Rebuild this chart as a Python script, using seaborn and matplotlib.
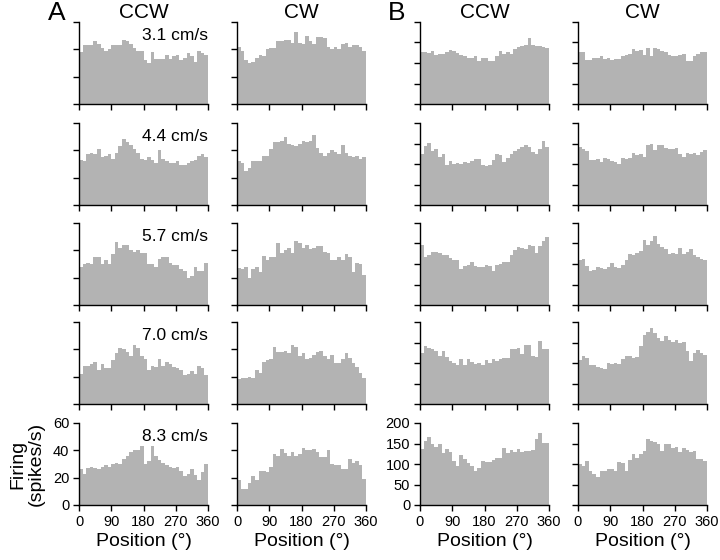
import numpy as np
import pandas as pd
import matplotlib
matplotlib.use("Agg")
import matplotlib.pyplot as plt
import seaborn as sns

# ---------------- data (firing rate per 10-degree bin, 36 bins) ----------------
bin_edges = list(range(0, 370, 10))
speeds = ["3.1 cm/s", "4.4 cm/s", "5.7 cm/s", "7.0 cm/s", "8.3 cm/s"]
col_titles = ["CCW", "CW", "CCW", "CW"]
panel_letters = ["A", "B"]
x_ticks = [0, 90, 180, 270, 360]
a_yticks = [0, 20, 40, 60]
b_yticks = [0, 50, 100, 150, 200]

# Panel A (0-60 spikes/s)
a_ccw_31 = [38, 43, 43, 43, 46, 44, 41, 39, 40, 43, 43, 43, 47, 46, 44, 41, 39, 39,
            32, 30, 38, 33, 33, 33, 36, 33, 35, 36, 32, 34, 37, 35, 31, 39, 37, 36]
a_cw_31 = [42, 39, 32, 30, 31, 34, 36, 35, 40, 41, 41, 46, 46, 47, 47, 45, 53, 45,
           44, 50, 46, 44, 49, 49, 48, 42, 40, 42, 40, 44, 45, 42, 43, 43, 42, 39]
a_ccw_44 = [33, 32, 37, 38, 37, 41, 35, 36, 37, 34, 38, 43, 48, 46, 44, 41, 38, 34,
            33, 35, 33, 31, 40, 34, 32, 31, 31, 32, 29, 29, 31, 32, 33, 36, 37, 35]
a_cw_44 = [32, 31, 25, 27, 32, 32, 32, 36, 36, 41, 46, 46, 47, 50, 45, 44, 43, 45,
           47, 46, 47, 51, 42, 38, 36, 38, 40, 39, 37, 44, 38, 36, 35, 36, 34, 35]
a_ccw_57 = [28, 30, 31, 30, 35, 35, 30, 33, 30, 37, 46, 42, 44, 44, 40, 39, 40, 38,
            38, 30, 30, 28, 34, 35, 35, 31, 29, 29, 26, 25, 20, 21, 28, 25, 25, 31]
a_cw_57 = [27, 26, 28, 20, 26, 28, 24, 36, 33, 35, 35, 45, 38, 40, 42, 38, 47, 45,
           42, 44, 41, 42, 43, 43, 39, 38, 33, 33, 35, 33, 37, 35, 24, 31, 30, 22]
a_ccw_70 = [22, 28, 28, 29, 31, 25, 29, 26, 26, 32, 37, 41, 40, 38, 35, 43, 41, 35,
            33, 25, 28, 27, 33, 28, 31, 29, 27, 26, 25, 21, 22, 24, 22, 28, 26, 21]
a_cw_70 = [18, 19, 19, 20, 19, 25, 23, 31, 32, 33, 42, 38, 38, 39, 37, 43, 42, 35,
           37, 33, 34, 36, 38, 39, 35, 33, 36, 30, 30, 33, 37, 34, 30, 27, 23, 19]
a_ccw_83 = [26, 23, 27, 28, 27, 26, 28, 29, 28, 30, 31, 30, 34, 36, 39, 40, 40, 43,
            30, 32, 43, 36, 33, 31, 29, 28, 27, 28, 25, 21, 23, 26, 22, 18, 24, 30]
a_cw_83 = [18, 12, 12, 16, 21, 18, 25, 25, 24, 28, 37, 36, 41, 38, 36, 39, 36, 37,
           42, 40, 40, 41, 39, 35, 35, 40, 30, 29, 29, 26, 26, 34, 31, 32, 29, 19]

# Panel B (0-200 spikes/s)
b_ccw_31 = [127, 127, 124, 130, 120, 121, 121, 127, 131, 130, 124, 119, 116, 111, 113, 118, 105, 113,
            111, 106, 106, 118, 129, 121, 127, 121, 135, 138, 142, 143, 160, 143, 142, 142, 138, 136]
b_cw_31 = [126, 127, 107, 107, 113, 112, 118, 109, 111, 108, 109, 109, 118, 120, 123, 133, 130, 131,
           120, 136, 117, 137, 133, 130, 128, 120, 118, 116, 119, 121, 104, 105, 116, 121, 126, 127]
b_ccw_44 = [124, 145, 152, 131, 136, 117, 125, 97, 107, 101, 102, 101, 105, 102, 107, 112, 113, 98,
            95, 98, 109, 124, 123, 106, 115, 124, 131, 137, 141, 147, 141, 129, 125, 137, 157, 141]
b_cw_44 = [141, 137, 131, 110, 109, 113, 105, 115, 111, 107, 106, 99, 115, 113, 115, 127, 123, 125,
           117, 147, 148, 135, 147, 147, 139, 136, 137, 139, 125, 117, 127, 125, 127, 121, 129, 133]
b_ccw_57 = [147, 117, 123, 129, 129, 127, 123, 121, 115, 110, 109, 89, 94, 97, 105, 95, 92, 92,
            98, 94, 83, 97, 99, 106, 106, 121, 133, 141, 139, 137, 147, 144, 127, 145, 155, 167]
b_cw_57 = [110, 111, 95, 82, 85, 92, 91, 87, 92, 103, 92, 90, 98, 110, 124, 121, 127, 131,
           159, 147, 156, 168, 148, 141, 137, 124, 126, 124, 139, 124, 129, 137, 121, 117, 111, 109]
b_ccw_70 = [124, 141, 137, 133, 129, 117, 129, 115, 105, 101, 95, 110, 95, 109, 103, 97, 101, 95,
            107, 101, 109, 106, 110, 113, 113, 133, 135, 137, 121, 144, 144, 117, 115, 153, 133, 133]
b_cw_70 = [107, 118, 113, 95, 94, 91, 89, 86, 101, 98, 101, 98, 109, 118, 117, 113, 115, 141,
           169, 176, 185, 173, 161, 153, 166, 155, 151, 157, 149, 151, 129, 106, 124, 131, 124, 120]
b_ccw_83 = [137, 156, 165, 150, 142, 148, 128, 136, 130, 107, 96, 122, 112, 103, 94, 84, 91, 107,
            105, 104, 110, 114, 115, 140, 128, 135, 130, 137, 130, 131, 132, 133, 162, 176, 152, 151]
b_cw_83 = [99, 96, 107, 84, 76, 69, 83, 83, 87, 88, 84, 104, 103, 84, 110, 125, 115, 125,
           132, 160, 156, 154, 150, 131, 150, 150, 138, 142, 130, 138, 134, 130, 132, 113, 112, 108]

panels = [
    [a_ccw_31, a_cw_31, b_ccw_31, b_cw_31],
    [a_ccw_44, a_cw_44, b_ccw_44, b_cw_44],
    [a_ccw_57, a_cw_57, b_ccw_57, b_cw_57],
    [a_ccw_70, a_cw_70, b_ccw_70, b_cw_70],
    [a_ccw_83, a_cw_83, b_ccw_83, b_cw_83],
]

# ---------------- style ----------------
sns.set_style("ticks")
plt.rcParams["font.family"] = ["Liberation Sans", "DejaVu Sans"]
plt.rcParams["axes.linewidth"] = 1.0
plt.rcParams["xtick.major.size"] = 4
plt.rcParams["ytick.major.size"] = 4
plt.rcParams["xtick.major.width"] = 1.0
plt.rcParams["ytick.major.width"] = 1.0
plt.rcParams["xtick.direction"] = "out"
plt.rcParams["ytick.direction"] = "out"
plt.rcParams["xtick.color"] = "black"
plt.rcParams["ytick.color"] = "black"
plt.rcParams["xtick.labelcolor"] = "black"
plt.rcParams["ytick.labelcolor"] = "black"
plt.rcParams["axes.edgecolor"] = "black"
plt.rcParams["axes.labelcolor"] = "black"
plt.rcParams["text.color"] = "black"

W, H = 720, 560
fig = plt.figure(figsize=(W / 100, H / 100), dpi=100)

lefts_px = [79, 237, 420, 578]
width_px = 129
bottoms_px = [104, 205, 305, 404, 505]
height_px = 82
bar_color = "#b3b3b3"
centers = [e + 5 for e in bin_edges[:-1]]

for r in range(5):
    for c in range(4):
        ax = fig.add_axes([lefts_px[c] / W, 1 - bottoms_px[r] / H,
                           width_px / W, height_px / H])
        df = pd.DataFrame({"pos": centers, "rate": panels[r][c]})
        sns.histplot(data=df, x="pos", weights="rate", bins=bin_edges, ax=ax,
                     color=bar_color, alpha=1, linewidth=0,
                     element="step", fill=True)
        ax.set_xlim(0, 360)
        ax.set_xticks(x_ticks)
        is_a = c < 2
        yt = a_yticks if is_a else b_yticks
        ax.set_ylim(yt[0], yt[-1])
        ax.set_yticks(yt)
        ax.tick_params(labelsize=10.5, pad=3)
        ax.set_ylabel("")
        ax.set_xlabel("")
        sns.despine(ax=ax)
        if r < 4:
            ax.set_xticklabels([])
        else:
            ax.set_xlabel("Position (°)", fontsize=14, labelpad=3)
        if not (r == 4 and c in (0, 2)):
            ax.set_yticklabels([])
        if r == 4 and c == 0:
            ax.set_ylabel("Firing\n(spikes/s)", fontsize=14, labelpad=6,
                          linespacing=1.1, multialignment="center")
        if r == 0:
            ax.set_title(col_titles[c], fontsize=15, pad=3)
        if c == 0:
            ax.text(1.0, 0.93, speeds[r], transform=ax.transAxes,
                    ha="right", va="top", fontsize=12.5)

fig.text(57 / W, 1 - 13 / H, panel_letters[0], fontsize=19, ha="center", va="center")
fig.text(397 / W, 1 - 13 / H, panel_letters[1], fontsize=19, ha="center", va="center")

fig.savefig("out.png", dpi=100, facecolor="white")
